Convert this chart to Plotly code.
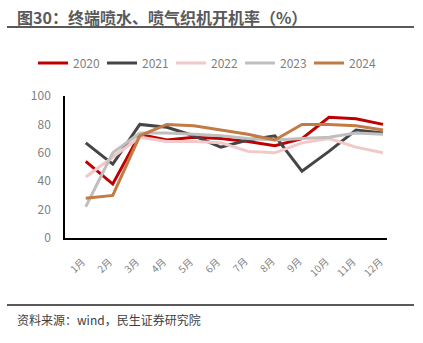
import plotly.graph_objects as go

months = ["1月", "2月", "3月", "4月", "5月", "6月", "7月", "8月", "9月", "10月", "11月", "12月"]
s2020 = [54, 38, 73, 69, 71, 70, 68, 65, 70, 85, 84, 80]
s2021 = [67, 52, 80, 78, 72, 64, 69, 72, 47, 61, 76, 74]
s2022 = [43, 57, 71, 68, 68, 67, 61, 60, 67, 70, 64, 60]
s2023 = [22, 60, 74, 74, 73, 72, 70, 69, 70, 71, 74, 73]
s2024 = [28, 30, 72, 80, 79, 76, 73, 69, 80, 80, 79, 76]

series = [
    ("2020", s2020, "#C00000"),
    ("2021", s2021, "#454545"),
    ("2022", s2022, "#F2C8C8"),
    ("2023", s2023, "#BFBFBF"),
    ("2024", s2024, "#C27B45"),
]

fig = go.Figure()
for name, vals, color in series:
    fig.add_trace(go.Scatter(x=months, y=vals, name=name, mode="lines",
                             line=dict(color=color, width=3)))

L, R, T, B = 65, 36, 96, 105
W, H = 423 - L - R, 343 - T - B

def px(x):
    return (x - L) / W

def py(y):
    return (343 - B - y) / H

annotations = [
    dict(text="<b>图30：终端喷水、喷气织机开机率（%）</b>", xref="paper", yref="paper",
         x=px(15), y=py(17), xanchor="left", yanchor="middle", showarrow=False,
         font=dict(size=16, color="#595959")),
    dict(text="资料来源：wind，民生证券研究院", xref="paper", yref="paper",
         x=px(15), y=py(319), xanchor="left", yanchor="middle", showarrow=False,
         font=dict(size=12, color="#404040")),
]
for m in months:
    annotations.append(dict(text=m, xref="x", yref="paper", x=m, y=0,
                            xanchor="right", yanchor="top", textangle=-45,
                            xshift=4, yshift=-14, showarrow=False, borderpad=0,
                            font=dict(size=10, color="#7F7F7F")))

fig.update_layout(
    width=423, height=343,
    margin=dict(l=L, r=R, t=T, b=B),
    paper_bgcolor="white", plot_bgcolor="white",
    font=dict(family="Noto Sans CJK SC, sans-serif", color="#7F7F7F"),
    showlegend=True,
    legend=dict(orientation="h", x=px(33), y=py(63), xanchor="left", yanchor="middle",
                font=dict(size=12, color="#7F7F7F"), entrywidth=24, entrywidthmode="pixels",
                itemwidth=30, tracegroupgap=0),
    xaxis=dict(type="category", showgrid=False, showline=True, linecolor="#000000",
               linewidth=1.5, ticks="", showticklabels=False),
    yaxis=dict(range=[0, 100], dtick=20, showgrid=False, showline=True,
               linecolor="#000000", linewidth=1.5, ticks="", zeroline=False,
               tickfont=dict(size=12, color="#7F7F7F"), ticklabelstandoff=10),
    annotations=annotations,
    shapes=[
        dict(type="line", xref="paper", yref="paper", x0=px(7), x1=px(414),
             y0=py(27), y1=py(27), line=dict(color="#595959", width=2)),
        dict(type="line", xref="paper", yref="paper", x0=px(7), x1=px(414),
             y0=py(305), y1=py(305), line=dict(color="#595959", width=2)),
    ],
)

fig.write_html("out.html")
